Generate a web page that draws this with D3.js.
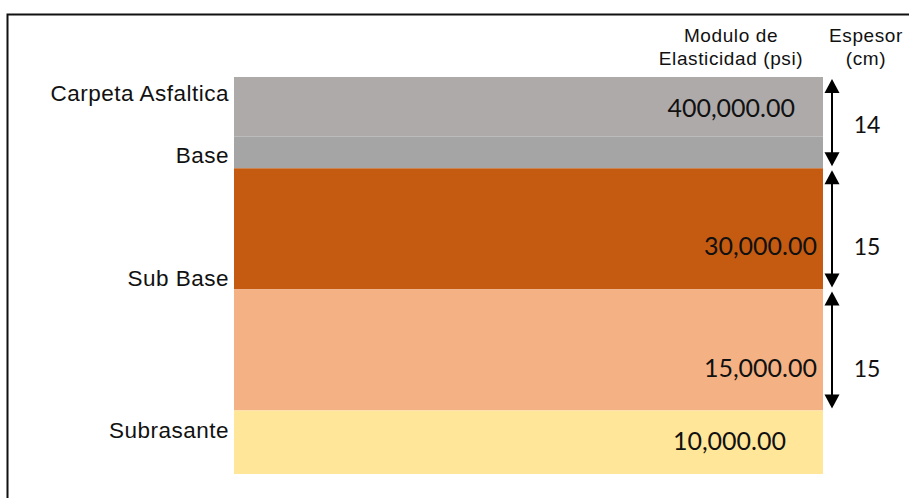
<!DOCTYPE html>
<html>
<head>
<meta charset="utf-8">
<script src="https://cdn.jsdelivr.net/npm/d3@7"></script>
<style>
  html, body { margin: 0; padding: 0; background: #fff; }
  svg { display: block; }
</style>
</head>
<body>
<svg id="chart" width="909" height="498"></svg>
<script>
// ---- data ----
const layers = ["Carpeta Asfaltica", "Base", "Sub Base", "", "Subrasante"];
const layerDepth = [15, 8, 30.5, 30.5, 16];          // relative stacked size of each layer
const modulus = [400000, null, 30000, 15000, 10000];  // psi
const thickness = [14, 15, 15];                        // cm
const thicknessSpan = [[0, 1], [2, 2], [3, 3]];        // layers covered by each arrow
const headers = { modulus: ["Modulo de", "Elasticidad (psi)"], thickness: ["Espesor", "(cm)"] };

// ---- layout / style ----
const colors = ["#AEAAAA", "#A5A5A5", "#C55A11", "#F4B183", "#FFE699"];
const labelFrac = [0.41, 0.84, 0.97, 0, 0.43];
const valueFrac = [0.68, 0, 0.72, 0.72, 0.63];
const valueInset = [28, 0, 6, 6, 37];
const thickFrac = [0.615, 0.72, 0.72];

const svg = d3.select("#chart");

// frame
svg.append("rect").attr("x", 7.5).attr("y", 14.5).attr("width", 960).attr("height", 560)
  .attr("fill", "none").attr("stroke", "#111").attr("stroke-width", 2);

const total = d3.sum(layerDepth);
const y = d3.scaleLinear().domain([0, total]).range([77, 474]);
const x = d3.scaleLinear().domain([0, 1]).range([234, 823]);

const cum = [0];
layerDepth.forEach((d, i) => cum.push(cum[i] + d));
const rows = layers.map((name, i) => ({ name, i, y0: cum[i], y1: cum[i + 1], mod: modulus[i] }));

// layers
svg.append("g").selectAll("rect").data(rows).join("rect")
  .attr("x", x(0)).attr("width", x(1) - x(0))
  .attr("y", d => y(d.y0)).attr("height", d => y(d.y1) - y(d.y0))
  .attr("fill", (d, i) => colors[i]);

// left labels
svg.append("g").selectAll("text").data(rows.filter(d => d.name)).join("text")
  .attr("x", x(0) - 5)
  .attr("y", d => y(d.y0) + labelFrac[d.i] * (y(d.y1) - y(d.y0)))
  .attr("text-anchor", "end")
  .attr("font-family", "'Liberation Sans', Arial, sans-serif")
  .attr("font-size", 22.5).attr("letter-spacing", 0.5).attr("fill", "#111")
  .text(d => d.name);

// modulus values
const fmt = d3.format(",.2f");
svg.append("g").selectAll("text").data(rows.filter(d => d.mod != null)).join("text")
  .attr("x", d => x(1) - valueInset[d.i])
  .attr("y", d => y(d.y0) + valueFrac[d.i] * (y(d.y1) - y(d.y0)))
  .attr("text-anchor", "end")
  .attr("font-family", "Lato, 'Open Sans', sans-serif")
  .attr("font-size", 25).attr("fill", "#111")
  .text(d => fmt(d.mod));

// headers
const hdr = svg.append("g").attr("font-family", "'Liberation Sans', Arial, sans-serif")
  .attr("font-size", 19).attr("letter-spacing", 0.6).attr("fill", "#111").attr("text-anchor", "middle");
headers.modulus.forEach((t, k) => hdr.append("text").attr("x", 731).attr("y", 42 + k * 23).text(t));
headers.thickness.forEach((t, k) => hdr.append("text").attr("x", 866).attr("y", 42 + k * 23).text(t));

// thickness arrows
const ax = 832, hw = 7.5, hh = 14;
const ag = svg.append("g");
thickness.forEach((t, k) => {
  const top = y(cum[thicknessSpan[k][0]]);
  const bot = y(cum[thicknessSpan[k][1] + 1]);
  const t0 = top + 2, t1 = bot - 2;
  ag.append("line").attr("x1", ax).attr("x2", ax).attr("y1", t0 + hh - 2).attr("y2", t1 - hh + 2)
    .attr("stroke", "#000").attr("stroke-width", 2);
  ag.append("path").attr("d", `M${ax},${t0} L${ax - hw},${t0 + hh} L${ax + hw},${t0 + hh} Z`).attr("fill", "#000");
  ag.append("path").attr("d", `M${ax},${t1} L${ax - hw},${t1 - hh} L${ax + hw},${t1 - hh} Z`).attr("fill", "#000");
  ag.append("text").attr("x", 867).attr("y", top + thickFrac[k] * (bot - top))
    .attr("text-anchor", "middle")
    .attr("font-family", "Lato, 'Open Sans', sans-serif")
    .attr("font-size", 23).attr("fill", "#111").text(t);
});
</script>
</body>
</html>
